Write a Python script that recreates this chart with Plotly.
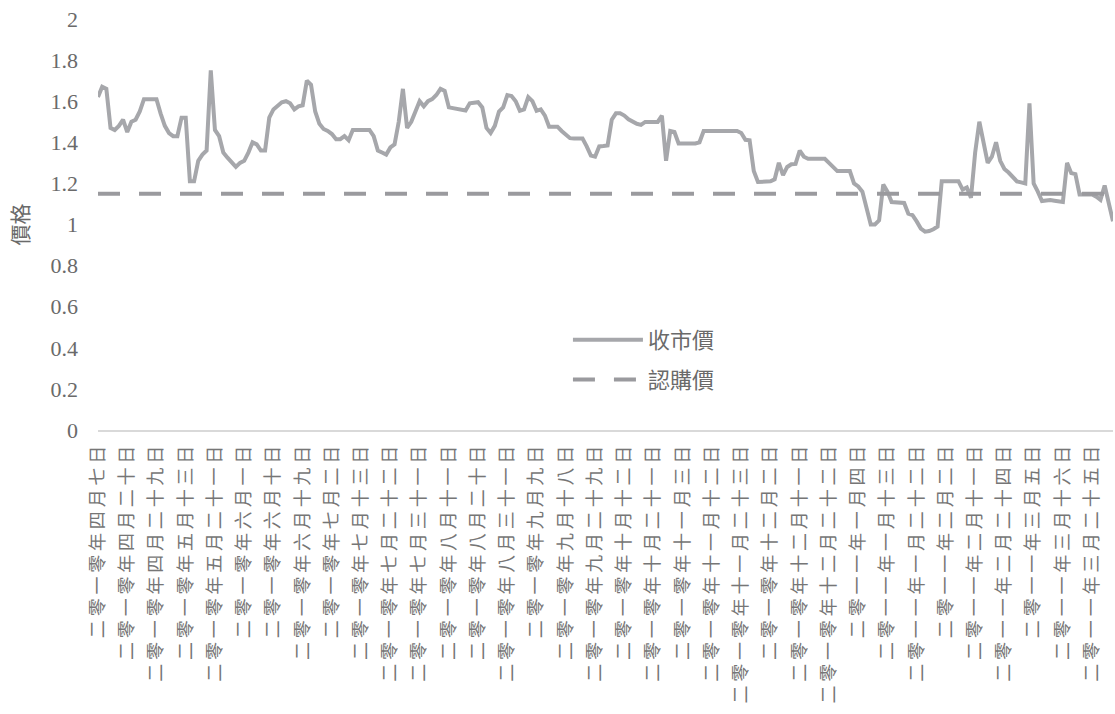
import plotly.graph_objects as go

# ---- data ----
series_close_name = "收市價"
series_sub_name = "認購價"

close_prices = [
    1.62, 1.67, 1.66, 1.47, 1.46, 1.48, 1.51, 1.45, 1.50, 1.51,
    1.55, 1.61, 1.61, 1.61, 1.61, 1.54, 1.48, 1.445, 1.43, 1.43,
    1.52, 1.52, 1.21, 1.21, 1.31, 1.34, 1.36, 1.75, 1.46, 1.43,
    1.35, 1.325, 1.30, 1.28, 1.30, 1.31, 1.35, 1.40, 1.39, 1.36,
    1.36, 1.52, 1.56, 1.58, 1.595, 1.60, 1.59, 1.56, 1.575, 1.58,
    1.70, 1.68, 1.55, 1.49, 1.465, 1.455, 1.44, 1.415, 1.415, 1.43,
    1.41, 1.46, 1.46, 1.46, 1.46, 1.46, 1.43, 1.36, 1.35, 1.34,
    1.375, 1.39, 1.50, 1.66, 1.47, 1.50, 1.55, 1.60, 1.575, 1.60,
    1.61, 1.63, 1.66, 1.65, 1.57, 1.565, 1.565, 1.56, 1.555, 1.59,
    1.595, 1.595, 1.57, 1.47, 1.445, 1.48, 1.55, 1.57, 1.63, 1.625,
    1.60, 1.553, 1.56, 1.62, 1.60, 1.553, 1.56, 1.53, 1.476, 1.476,
    1.476, 1.455, 1.435, 1.42, 1.418, 1.418, 1.418, 1.38, 1.335, 1.33,
    1.38, 1.382, 1.385, 1.51, 1.541, 1.541, 1.53, 1.512, 1.50, 1.49,
    1.485, 1.499, 1.499, 1.499, 1.499, 1.53, 1.31, 1.455, 1.45, 1.394,
    1.394, 1.394, 1.394, 1.394, 1.40, 1.455, 1.455, 1.455, 1.455, 1.455,
    1.455, 1.455, 1.455, 1.455, 1.445, 1.412, 1.41, 1.26, 1.207, 1.207,
    1.21, 1.21, 1.22, 1.30, 1.24, 1.28, 1.293, 1.295, 1.36, 1.33,
    1.32, 1.32, 1.32, 1.32, 1.32, 1.30, 1.28, 1.26, 1.26, 1.26,
    1.26, 1.20, 1.185, 1.16, 1.07, 1.00, 1.00, 1.02, 1.195, 1.16,
    1.109, 1.109, 1.109, 1.105, 1.053, 1.045, 1.015, 0.98, 0.965, 0.968,
    0.977, 0.99, 1.211, 1.211, 1.211, 1.211, 1.211, 1.17, 1.18, 1.13,
    1.35, 1.50, 1.40, 1.30, 1.33, 1.40, 1.31, 1.27, 1.253, 1.23,
    1.21, 1.205, 1.20, 1.59, 1.20, 1.16, 1.114, 1.117, 1.119, 1.116,
    1.112, 1.11, 1.30, 1.25, 1.245, 1.146, 1.146, 1.146, 1.146, 1.135,
    1.12, 1.19, 1.10, 1.016,
]

subscription_price = 1.15

date_labels = [
    "二零一零年四月七日", "二零一零年四月二十日", "二零一零年四月二十九日",
    "二零一零年五月十三日", "二零一零年五月二十一日", "二零一零年六月一日",
    "二零一零年六月十日", "二零一零年六月十九日", "二零一零年七月二日",
    "二零一零年七月十三日", "二零一零年七月二十二日", "二零一零年七月三十一日",
    "二零一零年八月十一日", "二零一零年八月二十日", "二零一零年八月三十一日",
    "二零一零年九月九日", "二零一零年九月十八日", "二零一零年九月二十九日",
    "二零一零年十月十二日", "二零一零年十月二十一日", "二零一零年十一月三日",
    "二零一零年十一月十二日", "二零一零年十一月二十三日", "二零一零年十二月二日",
    "二零一零年十二月十一日", "二零一零年十二月二十二日", "二零一一年一月四日",
    "二零一一年一月十三日", "二零一一年一月二十二日", "二零一一年二月二日",
    "二零一一年二月十一日", "二零一一年二月二十四日", "二零一一年三月五日",
    "二零一一年三月十六日", "二零一一年三月二十五日",
]
label_every = 7  # one date label every 7 trading days

y_ticks = [0, 0.2, 0.4, 0.6, 0.8, 1, 1.2, 1.4, 1.6, 1.8, 2]
y_title = "價格"

# ---- figure ----
n = len(close_prices)
xs = list(range(n))
tick_pos = xs[::label_every][:len(date_labels)]

CJK = "Noto Sans CJK TC, Noto Sans CJK SC, sans-serif"
SERIF = "Liberation Serif, Times New Roman, serif"

fig = go.Figure()
fig.add_trace(go.Scatter(
    x=xs, y=close_prices, mode="lines", name=series_close_name,
    legendgroup="a",
    line=dict(color="#A6A7AB", width=4),
))
fig.add_trace(go.Scatter(
    x=xs, y=[subscription_price] * n, mode="lines", name=series_sub_name,
    legendgroup="b",
    line=dict(color="#9A9A9E", width=4, dash="22px,19px"),
))

fig.update_layout(
    width=1115, height=714,
    margin=dict(l=98, r=2, t=19, b=284),
    paper_bgcolor="white", plot_bgcolor="white",
    showlegend=True,
    legend=dict(
        x=0.463, y=0.27, xanchor="left", yanchor="top",
        font=dict(family=CJK, size=22, color="#6a6a6a"),
        bgcolor="rgba(0,0,0,0)", itemwidth=70, tracegroupgap=8,
    ),
    xaxis=dict(
        range=[0, n - 1], showgrid=False, zeroline=False,
        showline=True, linecolor="#D9D9D9", linewidth=1.5,
        tickmode="array", tickvals=tick_pos, ticktext=date_labels,
        tickangle=-90, ticks="", ticklabelstandoff=3,
        tickfont=dict(family=CJK, size=18, color="#767676"),
    ),
    yaxis=dict(
        range=[0, 2], showgrid=False, zeroline=False, showline=False,
        tickmode="array", tickvals=y_ticks, ticks="",
        ticklabelstandoff=19,
        tickfont=dict(family=SERIF, size=22, color="#6a6a6a"),
    ),
    annotations=[dict(
        text=y_title, xref="paper", yref="paper", x=0, y=0.5,
        xanchor="center", yanchor="middle",
        xshift=-80, showarrow=False, textangle=-90,
        font=dict(family=CJK, size=21, color="#6a6a6a"),
    )],
)

post = ("var s=document.createElement('style');"
        "s.textContent='.xtick text{letter-spacing:3.8px}';"
        "document.head.appendChild(s);")
fig.write_html("out.html", post_script=post)
